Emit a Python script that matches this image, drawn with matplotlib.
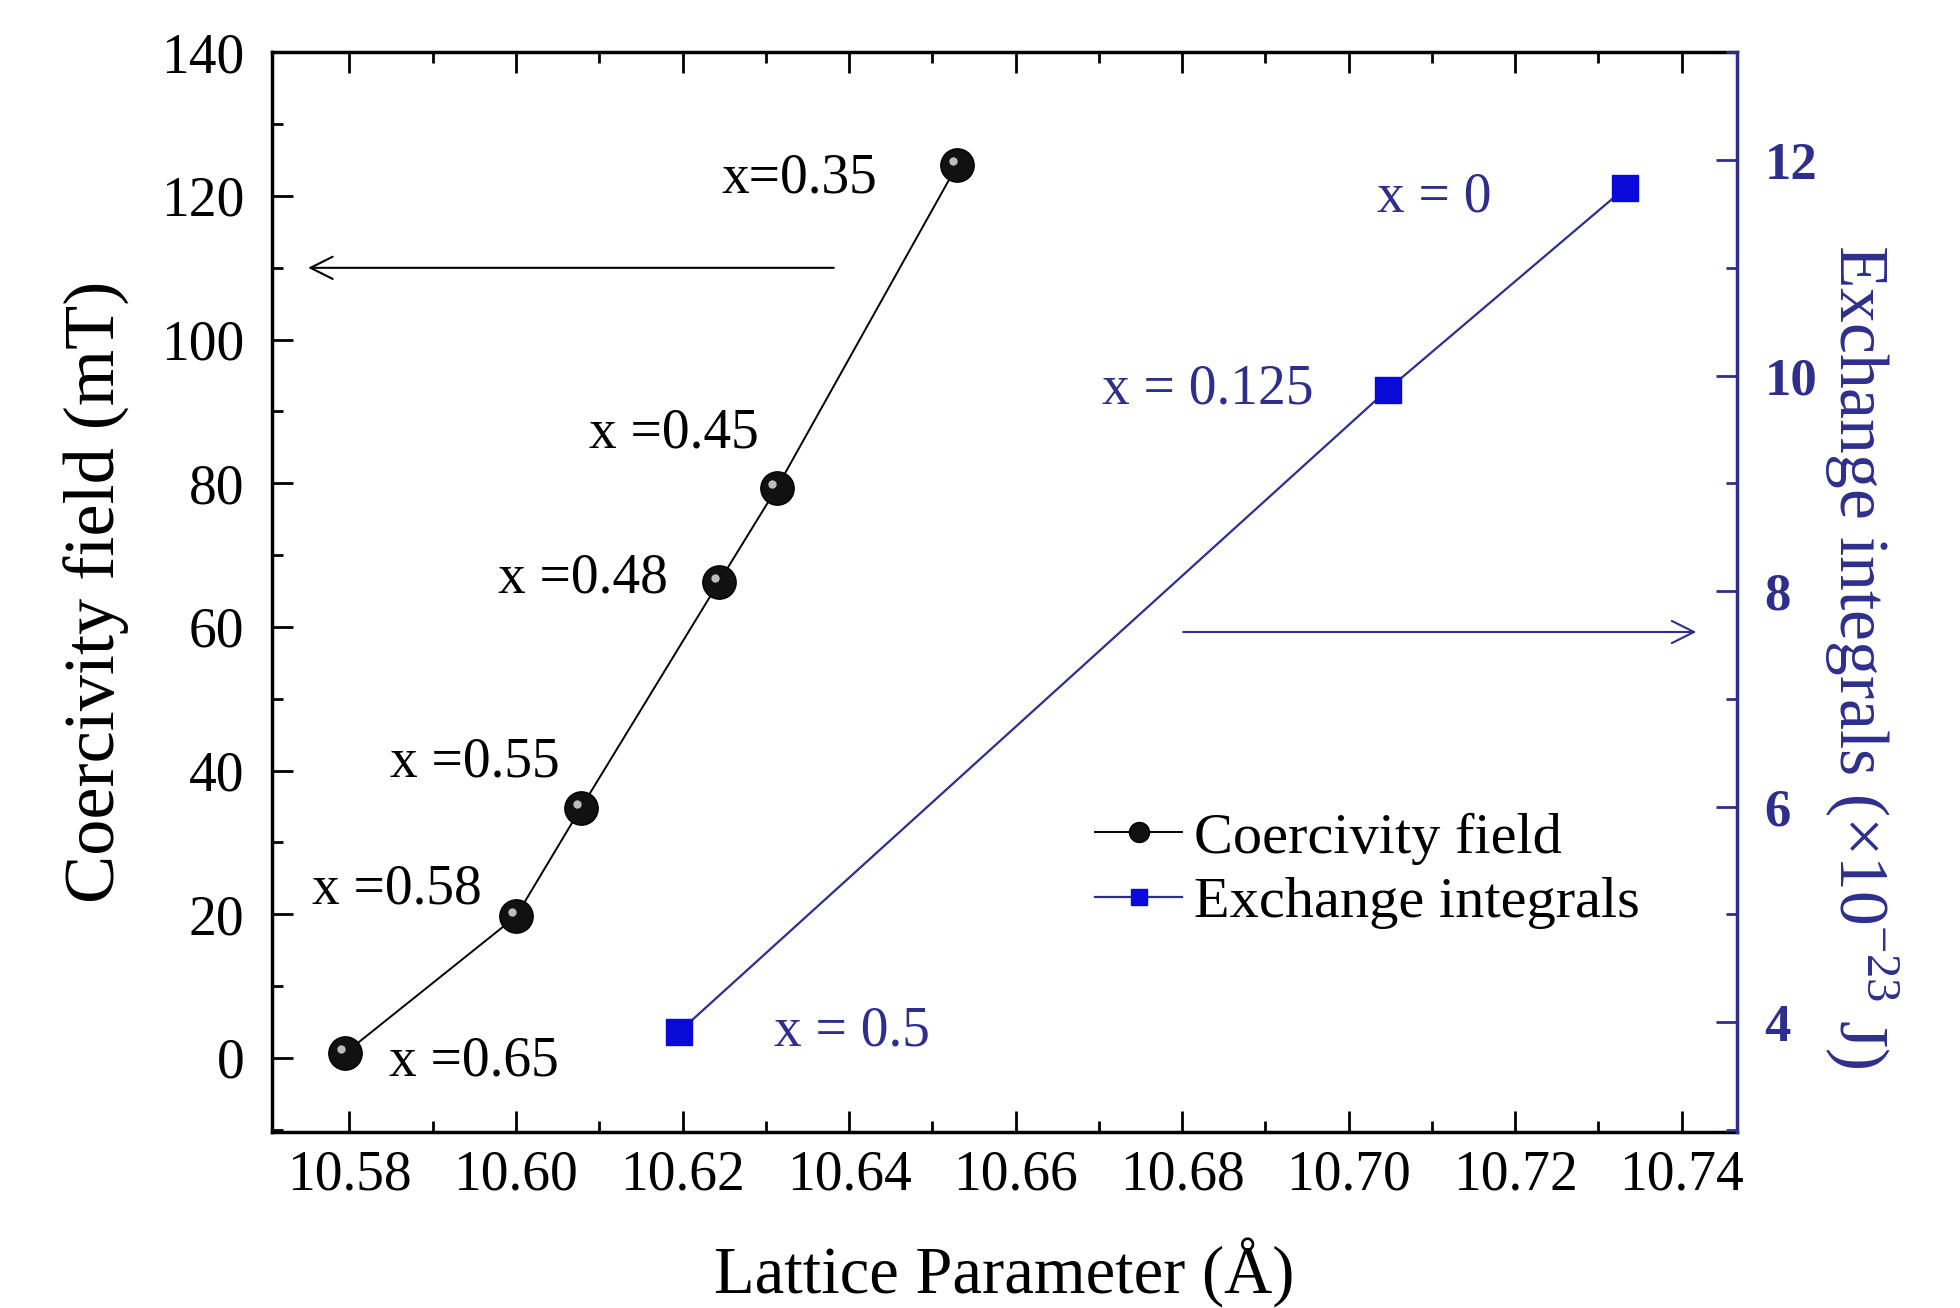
import matplotlib.pyplot as plt
from matplotlib.transforms import offset_copy

plt.rcParams['font.family'] = 'Liberation Serif'
plt.rcParams['mathtext.fontset'] = 'custom'
plt.rcParams['mathtext.rm'] = 'Liberation Serif'

# Coercivity field vs lattice parameter
lat_coer = [10.5795, 10.600, 10.6078, 10.6244, 10.6313, 10.6530]
coer = [0.7, 19.7, 34.8, 66.3, 79.3, 124.3]
coer_labels = ['x =0.65', 'x =0.58', 'x =0.55', 'x =0.48', 'x =0.45', 'x=0.35']

# Exchange integrals vs lattice parameter
lat_exch = [10.6196, 10.7047, 10.7332]
exch = [3.91, 9.87, 11.74]
exch_labels = ['x = 0.5', 'x = 0.125', 'x = 0']

navy = '#2e2e8c'
blue = '#0a0ad8'

fig = plt.figure(figsize=(19.6, 13.08), dpi=100)
ax = fig.add_axes([0.1388, 0.1346, 0.886 - 0.1388, 0.960 - 0.1346])
ax2 = ax.twinx()

l1, = ax.plot(lat_coer, coer, '-', color='k', lw=1.4, marker='o',
              markersize=24, markerfacecolor='#111111', markeredgecolor='k',
              label='Coercivity field', zorder=3)
# little highlight on the balls
hl = offset_copy(ax.transData, fig=fig, x=-3, y=3, units='points')
ax.plot(lat_coer, coer, 'o', color='#bdbdbd', markersize=6,
        markeredgewidth=0, transform=hl, zorder=4)
l2, = ax2.plot(lat_exch, exch, '-', color=navy, lw=1.6, marker='s',
               markersize=19, markerfacecolor=blue, markeredgecolor=blue,
               label='Exchange integrals')

ax.set_xlim(10.5707, 10.7466)
ax.set_ylim(-10.3, 140)
ax2.set_ylim(2.98, 13.0)

ax.set_xticks([10.58, 10.60, 10.62, 10.64, 10.66, 10.68, 10.70, 10.72, 10.74])
ax.set_xticks([10.59, 10.61, 10.63, 10.65, 10.67, 10.69, 10.71, 10.73], minor=True)
ax.set_yticks([0, 20, 40, 60, 80, 100, 120, 140])
ax.set_yticks([-10, 10, 30, 50, 70, 90, 110, 130], minor=True)
ax2.set_yticks([4, 6, 8, 10, 12])
ax2.set_yticks([3, 5, 7, 9, 11, 13], minor=True)

ax.tick_params(which='both', direction='in', top=True, right=False,
               labelsize=40, width=2)
ax.tick_params(axis='x', pad=13)
ax.tick_params(axis='y', pad=20)
ax.tick_params(which='major', length=15)
ax.tick_params(which='minor', length=8)
ax2.tick_params(which='both', direction='in', colors=navy, labelsize=38,
                width=2, pad=20)
ax2.tick_params(which='major', length=15)
ax2.tick_params(which='minor', length=8)
for lab in ax2.get_yticklabels():
    lab.set_fontweight('bold')

for s in ax.spines.values():
    s.set_linewidth(2.5)
for s in ['left', 'top', 'bottom']:
    ax2.spines[s].set_visible(False)
ax2.spines['right'].set_linewidth(2.5)
ax2.spines['right'].set_color(navy)
ax.spines['right'].set_visible(False)

ax.set_xlabel('Lattice Parameter (\u00c5)', fontsize=48, labelpad=26)
ax.set_ylabel('Coercivity field (mT)', fontsize=52, labelpad=22)
ax2.set_ylabel('Exchange integrals (\u00d710$^{-23}$ J)', fontsize=50,
               color=navy, rotation=270, labelpad=60)
ax2.yaxis.label.set_y(0.44)

# point labels
coer_pos = [(10.595, -0.5), (10.5857, 23.5), (10.595, 41.2),
            (10.608, 66.8), (10.619, 87.0), (10.634, 122.4)]
for (tx, ty), t in zip(coer_pos, coer_labels):
    ax.text(tx, ty, t, fontsize=40, ha='center', va='center', color='k')
exch_pos = [(10.6403, 3.65), (10.6831, 93.0), (10.7103, 119.8)]
for (tx, ty), t in zip(exch_pos, exch_labels):
    ax.text(tx, ty, t, fontsize=40, ha='center', va='center', color=navy)

# arrows pointing to the axes
ax.annotate('', xy=(10.5747, 110), xytext=(10.6385, 110),
            arrowprops=dict(arrowstyle='->', color='k', lw=1.5,
                            mutation_scale=40))
ax.annotate('', xy=(10.7421, 59.3), xytext=(10.6798, 59.3),
            arrowprops=dict(arrowstyle='->', color=navy, lw=1.5,
                            mutation_scale=40))

leg = ax.legend([l1, l2], ['Coercivity field', 'Exchange integrals'],
                loc='upper left', bbox_to_anchor=(0.526, 0.345), frameon=False,
                fontsize=42, handlelength=1.5, handletextpad=0.2,
                labelspacing=0.2, markerscale=0.6)

fig.savefig('out.png', dpi=100)
